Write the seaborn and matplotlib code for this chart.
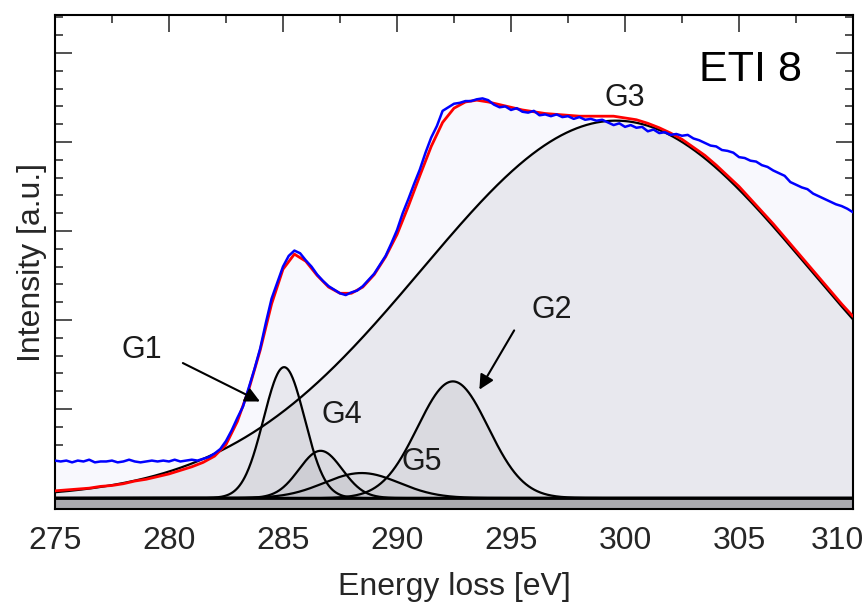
import numpy as np
import pandas as pd
import matplotlib
matplotlib.use("Agg")
import matplotlib.pyplot as plt
import matplotlib.transforms as mtransforms
import seaborn as sns

energy_start = 275.0
energy_step = 0.25
intensity = [
    0.42, 0.41, 0.42, 0.40,  0.42, 0.41, 0.43, 0.40,   # 275, 276
    0.41, 0.41, 0.42, 0.40,  0.41, 0.43, 0.41, 0.40,   # 277, 278
    0.41, 0.42, 0.41, 0.42,  0.41, 0.43, 0.41, 0.42,   # 279, 280
    0.43, 0.42, 0.44, 0.46,  0.50, 0.55, 0.64, 0.76,   # 281, 282
    0.90, 1.03, 1.24, 1.45,  1.68, 1.97, 2.24, 2.42,   # 283, 284
    2.60, 2.72, 2.78, 2.75,  2.67, 2.60, 2.51, 2.44,   # 285, 286
    2.38, 2.34, 2.30, 2.28,  2.31, 2.33, 2.38, 2.45,   # 287, 288
    2.52, 2.62, 2.72, 2.86,  3.01, 3.20, 3.36, 3.53,   # 289, 290
    3.69, 3.88, 4.05, 4.18,  4.35, 4.39, 4.43, 4.44,   # 291, 292
    4.46, 4.46, 4.48, 4.49,  4.47, 4.42, 4.39, 4.40,   # 293, 294
    4.36, 4.38, 4.34, 4.33,  4.35, 4.30, 4.31, 4.29,   # 295, 296
    4.31, 4.28, 4.29, 4.26,  4.28, 4.25, 4.26, 4.24,   # 297, 298
    4.25, 4.22, 4.19, 4.21,  4.17, 4.19, 4.16, 4.17,   # 299, 300
    4.12, 4.14, 4.10, 4.11,  4.08, 4.09, 4.07, 4.08,   # 301, 302
    4.04, 4.02, 3.99, 3.96,  3.95, 3.91, 3.90, 3.88,   # 303, 304
    3.83, 3.82, 3.79, 3.78,  3.74, 3.72, 3.68, 3.65,   # 305, 306
    3.62, 3.55, 3.52, 3.49,  3.47, 3.42, 3.39, 3.36,   # 307, 308
    3.33, 3.30, 3.28, 3.25,  3.21,                     # 309, 310
]

# total fit (red) in 0.5 eV steps
fit_step = 0.5
fit_curve = [
    0.08, 0.09, 0.10, 0.11, 0.13, 0.14, 0.16, 0.19, 0.21, 0.24,   # 275 - 279.5
    0.27, 0.31, 0.35, 0.40, 0.47, 0.60, 0.86, 1.22, 1.66, 2.18,   # 280 - 284.5
    2.57, 2.74, 2.66, 2.50, 2.37, 2.30, 2.30, 2.37, 2.51, 2.71,   # 285 - 289.5
    2.96, 3.28, 3.62, 3.95, 4.22, 4.38, 4.45, 4.47, 4.45, 4.42,   # 290 - 294.5
    4.39, 4.36, 4.34, 4.32, 4.31, 4.30, 4.29, 4.29, 4.29, 4.29,   # 295 - 299.5
    4.27, 4.25, 4.21, 4.16, 4.10, 4.03, 3.94, 3.85, 3.74, 3.62,   # 300 - 304.5
    3.50, 3.36, 3.22, 3.08, 2.93, 2.78, 2.63, 2.48, 2.33, 2.18,   # 305 - 309.5
    2.04,                                                         # 310
]

# fitted gaussian components (centre eV, height, sigma eV)
peak_names = ["G1", "G2", "G3", "G4", "G5"]
peak_centers = [285.05, 292.45, 299.6, 286.65, 288.45]
peak_heights = [1.47, 1.31, 4.24, 0.53, 0.28]
peak_sigmas = [0.90, 1.55, 8.5, 0.95, 1.65]

# label positions (eV, intensity) and arrows (tail -> head)
label_pos = {"G1": (278.8, 1.66), "G2": (296.8, 2.11), "G3": (300.0, 4.50),
             "G4": (287.6, 0.93), "G5": (291.1, 0.40)}
arrows = {"G1": ((280.5, 1.53), (284.1, 1.07)),
          "G2": ((295.2, 1.91), (293.55, 1.19))}

energy = energy_start + energy_step * np.arange(len(intensity))
df = pd.DataFrame({"energy": energy, "intensity": intensity})
fit_df = pd.DataFrame({"energy": energy_start + fit_step * np.arange(len(fit_curve)),
                       "fit": fit_curve})

xs = np.linspace(275, 310, 1401)
comps = {}
for n, c, h, s in zip(peak_names, peak_centers, peak_heights, peak_sigmas):
    comps[n] = h * np.exp(-(xs - c) ** 2 / (2 * s ** 2))

sns.set_style("ticks")
plt.rcParams["font.family"] = ["Liberation Sans", "DejaVu Sans"]

fig = plt.figure(figsize=(8.67, 6.03), dpi=100)
ax = fig.add_axes([0.0634, 0.1559, 0.9205, 0.8192])

# background under the measured spectrum
ax.fill_between(df["energy"], 0, df["intensity"], color="#f8f8fd", lw=0, zorder=1)

# components: G3 first (big one), then the small ones
for n in ["G3", "G2", "G5", "G4", "G1"]:
    ax.fill_between(xs, 0, comps[n], color=(0.47, 0.47, 0.51), alpha=0.12, lw=0, zorder=2)
    ax.plot(xs, comps[n], color="black", lw=1.6, zorder=3)

sns.lineplot(data=fit_df, x="energy", y="fit", color="red", lw=2.0, ax=ax, zorder=4)
sns.lineplot(data=df, x="energy", y="intensity", color="blue", lw=1.8, ax=ax, zorder=5)

# grey strip at the bottom
ax.axhspan(-0.2, 0, color="#aaaaaf", lw=0, zorder=1)
ax.axhline(0, color="black", lw=2, zorder=6)

for n, (x, y) in label_pos.items():
    ax.text(x, y, n, fontsize=22, ha="center", va="center", color="#1a1a1a", zorder=7)
for n, (tail, head) in arrows.items():
    ax.annotate("", xy=head, xytext=tail,
                arrowprops=dict(arrowstyle="-|>", color="black", lw=1.5, mutation_scale=22),
                zorder=7)
ax.text(305.5, 4.81, "ETI 8", fontsize=31, ha="center", va="center", color="black")

ax.set_xlim(275, 310)
ax.set_ylim(-0.124, 5.427)
ax.set_xticks(np.arange(275, 311, 5))
ax.set_xticks(np.arange(275, 311, 2.5), minor=True)
ax.set_yticks(np.arange(0, 6, 1))
ax.set_yticks(np.arange(0, 5.5, 0.2), minor=True)
ax.set_yticklabels([])
ax.tick_params(which="both", direction="in", top=True, right=True, width=1.2, color="#333333")
ax.tick_params(which="major", length=12, labelsize=23, pad=12)
ax.tick_params(which="minor", length=6)
for sp in ax.spines.values():
    sp.set_visible(True)
    sp.set_linewidth(1.5)
    sp.set_color("black")

# last tick label pulled inside the figure, like the original
last = ax.get_xticklabels()[-1]
last.set_transform(last.get_transform() + mtransforms.ScaledTranslation(-16 / 100, 0, fig.dpi_scale_trans))

ax.set_xlabel("Energy loss [eV]", fontsize=23, labelpad=12)
ax.set_ylabel("Intensity [a.u.]", fontsize=23, labelpad=-6)

fig.savefig("out.png", dpi=100)
